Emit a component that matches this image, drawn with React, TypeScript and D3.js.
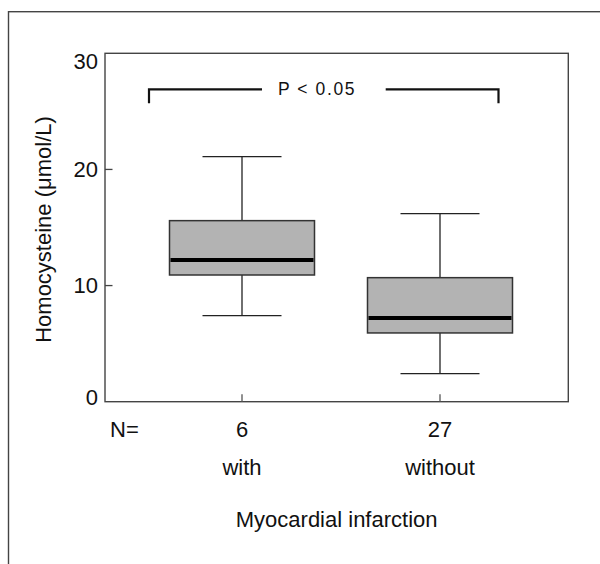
import React from "react";
import * as d3 from "d3";

const groups = ["with", "without"];
const counts = [6, 27];
const whiskerLow = [7.41, 2.41];
const q1 = [10.91, 5.92];
const medians = [12.2, 7.21];
const q3 = [15.59, 10.68];
const whiskerHigh = [21.1, 16.19];
const yTicks = [0, 10, 20, 30];
const yDomain = [0, 30];
const bracketLevel = 26.9;
const bracketDrop = 25.7;
const pLabel = "P < 0.05";
const yTitle = "Homocysteine (\u03bcmol/L)";
const xTitle = "Myocardial infarction";

const W = 600;
const H = 564;
const plot = { left: 105, right: 568.3, top: 53.3, bottom: 401.7 };
const FONT = "'Liberation Sans', Arial, sans-serif";

export default function App() {
  const y = d3.scaleLinear().domain(yDomain).range([plot.bottom, plot.top]);
  const x = d3.scalePoint<string>().domain(groups).range([242, 440]);
  const boxHalf = 72.5;
  const capHalf = 39.5;

  const bracketY = y(bracketLevel);
  const bracketDropY = y(bracketDrop);
  const bL = 149;
  const bR = 498.5;
  const gapL = 262;
  const gapR = 385.7;
  const pCenter = 317;

  return (
    <svg
      width={W}
      height={H}
      style={{ position: "absolute", left: 0, top: 0, background: "#fff" }}
      fontFamily={FONT}
    >
      {/* outer frame, running off the canvas right and bottom */}
      <rect x={8.5} y={11.7} width={700} height={700} fill="none" stroke="#444" strokeWidth={1.4} />

      {/* plot frame */}
      <rect
        x={plot.left}
        y={plot.top}
        width={plot.right - plot.left}
        height={plot.bottom - plot.top}
        fill="none"
        stroke="#444"
        strokeWidth={1.4}
      />

      {/* y ticks */}
      {yTicks.map((t) => (
        <g key={t}>
          {t !== yDomain[0] && t !== yDomain[1] && (
            <line x1={plot.left} x2={plot.left + 7.5} y1={y(t)} y2={y(t)} stroke="#444" strokeWidth={1.3} />
          )}
          <text
            x={98}
            y={Math.min(Math.max(y(t), plot.top + 7.5), plot.bottom - 5)}
            dy="0.36em"
            textAnchor="end"
            fontSize={22}
            fill="#111"
          >
            {t}
          </text>
        </g>
      ))}

      {/* x ticks */}
      {groups.map((g) => (
        <line key={g} x1={x(g)} x2={x(g)} y1={plot.bottom} y2={plot.bottom - 7.5} stroke="#555" strokeWidth={1.3} />
      ))}

      {/* boxes */}
      {groups.map((g, i) => {
        const cx = x(g) as number;
        return (
          <g key={g}>
            <line x1={cx} x2={cx} y1={y(whiskerHigh[i])} y2={y(q3[i])} stroke="#222" strokeWidth={1.3} />
            <line x1={cx} x2={cx} y1={y(q1[i])} y2={y(whiskerLow[i])} stroke="#222" strokeWidth={1.3} />
            <line x1={cx - capHalf} x2={cx + capHalf} y1={y(whiskerHigh[i])} y2={y(whiskerHigh[i])} stroke="#222" strokeWidth={1.3} />
            <line x1={cx - capHalf} x2={cx + capHalf} y1={y(whiskerLow[i])} y2={y(whiskerLow[i])} stroke="#222" strokeWidth={1.3} />
            <rect
              x={cx - boxHalf}
              y={y(q3[i])}
              width={boxHalf * 2}
              height={y(q1[i]) - y(q3[i])}
              fill="#b3b3b3"
              stroke="#333"
              strokeWidth={1.5}
            />
            <line x1={cx - boxHalf + 1} x2={cx + boxHalf - 1} y1={y(medians[i])} y2={y(medians[i])} stroke="#000" strokeWidth={4} />
          </g>
        );
      })}

      {/* significance bracket */}
      <path
        d={`M${bL},${bracketDropY}V${bracketY}H${gapL}`}
        fill="none"
        stroke="#111"
        strokeWidth={2.2}
      />
      <path
        d={`M${gapR},${bracketY}H${bR}V${bracketDropY}`}
        fill="none"
        stroke="#111"
        strokeWidth={2.2}
      />
      <text x={pCenter} y={95.3} textAnchor="middle" fontSize={17.5} letterSpacing={1.6} fill="#111">
        {pLabel}
      </text>

      {/* N row */}
      <text x={110} y={436.7} fontSize={22} fill="#111">
        N=
      </text>
      {groups.map((g, i) => (
        <text key={g} x={x(g)} y={436.7} textAnchor="middle" fontSize={22} fill="#111">
          {counts[i]}
        </text>
      ))}

      {/* category labels */}
      {groups.map((g) => (
        <text key={g} x={x(g)} y={475} textAnchor="middle" fontSize={22} fill="#111">
          {g}
        </text>
      ))}

      {/* axis titles */}
      <text x={(plot.left + plot.right) / 2} y={526.7} textAnchor="middle" fontSize={22} fill="#111">
        {xTitle}
      </text>
      <text
        transform={`translate(51,${(plot.top + plot.bottom) / 2 + 2}) rotate(-90)`}
        textAnchor="middle"
        fontSize={22}
        fill="#111"
      >
        {yTitle}
      </text>
    </svg>
  );
}
